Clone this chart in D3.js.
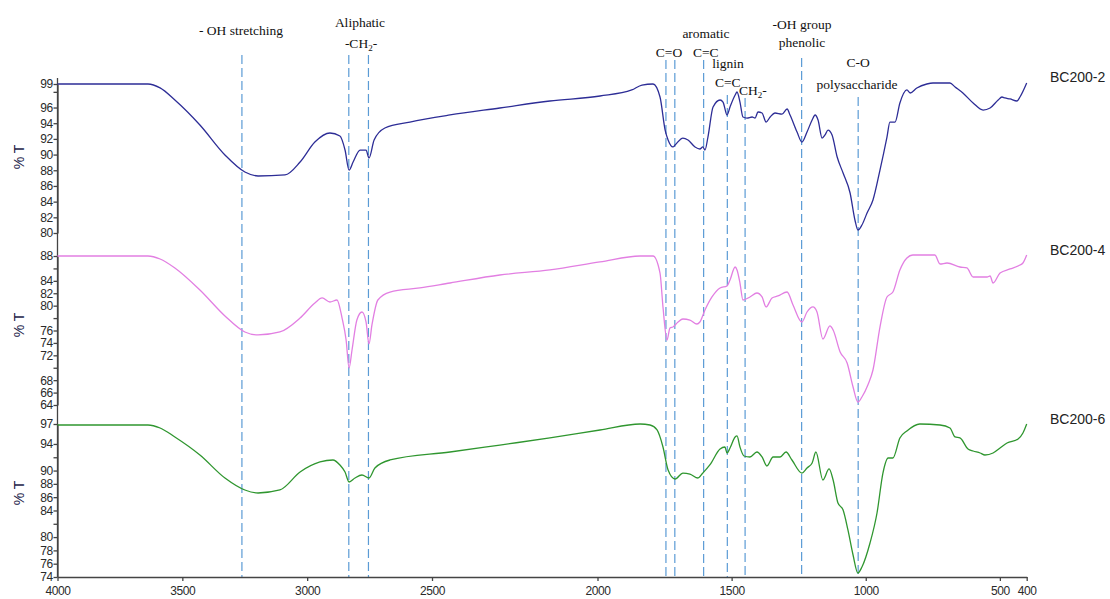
<!DOCTYPE html>
<html>
<head>
<meta charset="UTF-8">
<title>FTIR spectra BC200</title>
<script src="https://d3js.org/d3.v7.min.js"></script>
<style>
  body { margin: 0; background: #fff; }
  svg { display: block; }
  .tick text { font-family: "Liberation Sans", Arial, sans-serif; font-size: 12px; fill: #2a2a2a; }
  .axis path, .axis line { stroke: #444; stroke-width: 1.3px; }
  .spectrum { fill: none; stroke-width: 1.3px; stroke-linejoin: round; }
  .band { stroke: #5b9bd5; stroke-width: 1.2px; stroke-dasharray: 9,4; }
  .note { font-family: "Liberation Serif", "Times New Roman", serif; font-size: 13.5px; fill: #111; }
  .series-label { font-family: "Liberation Sans", Arial, sans-serif; font-size: 14px; fill: #222; }
  .y-title { font-family: "Liberation Sans", Arial, sans-serif; font-size: 14px; fill: #1c1c4a; }
</style>
</head>
<body>
<div id="chart"></div>
<script>
// sample names
const series = ['BC200-2', 'BC200-4', 'BC200-6'];

// [wavenumber cm-1, %T]
const bc2 = [[4000,99.0],[3664,99.0],[3619,98.5],[3564,96.96],[3471,93.77],[3378,89.95],[3304,87.78],[3255,87.27],
  [3155,87.4],[3099,89.05],[3044,91.6],[2988,92.75],[2951,92.37],[2932,90.58],[2917,88.03],[2902,89.05],[2876,90.58],
  [2854,90.58],[2843,89.56],[2824,91.86],[2784,93.39],[2691,94.15],[2542,95.05],[2357,95.94],[2171,96.83],[1985,97.47],
  [1867,98.24],[1829,98.87],[1788,99.0],[1762,97.34],[1743,93.13],[1732,91.86],[1714,90.97],[1706,91.22],[1677,92.11],
  [1658,91.86],[1632,90.97],[1614,90.71],[1603,90.97],[1595,90.58],[1584,92.24],[1565,96.07],[1539,96.96],[1528,96.7],
  [1513,95.05],[1502,96.07],[1483,97.6],[1476,97.98],[1465,96.7],[1454,94.79],[1439,94.66],[1420,94.79],[1409,94.66],
  [1398,95.43],[1383,95.3],[1368,94.15],[1353,94.79],[1335,95.3],[1309,95.17],[1290,95.81],[1279,95.05],[1253,92.88],
  [1235,91.6],[1216,92.88],[1197,94.41],[1186,95.05],[1175,94.41],[1160,92.11],[1149,92.5],[1138,93.13],[1123,92.5],
  [1104,89.69],[1082,87.65],[1056,85.1],[1038,81.66],[1027,80.38],[1012,81.02],[993,82.55],[971,84.21],[945,88.03],
  [919,92.24],[908,94.15],[889,94.15],[871,96.58],[845,98.24],[833,97.85],[808,98.49],[771,99.0],[748,99.13],[685,99.13],
  [666,98.62],[637,97.85],[599,96.58],[562,95.68],[536,95.94],[506,96.96],[492,97.34],[481,97.22],[462,97.09],[436,96.83],
  [425,97.34],[400,99.13]];

const bc4 = [[4000,88.0],[3664,88.0],[3619,87.52],[3564,86.07],[3471,82.52],[3378,78.34],[3304,75.76],[3255,75.28],
  [3174,75.76],[3099,78.01],[3044,80.43],[3017,81.24],[2988,80.59],[2962,80.91],[2943,78.01],[2928,74.47],[2917,69.96],
  [2906,72.86],[2888,77.69],[2869,78.98],[2854,77.37],[2843,73.83],[2832,76.89],[2810,80.91],[2765,82.2],[2654,82.85],
  [2542,83.65],[2357,84.94],[2171,85.75],[1985,87.04],[1836,88.0],[1788,88.0],[1762,85.26],[1751,79.79],[1736,74.47],
  [1725,76.4],[1714,76.56],[1695,77.37],[1677,77.85],[1651,77.69],[1625,77.05],[1614,77.37],[1595,79.3],[1569,81.4],
  [1539,82.85],[1513,83.17],[1502,84.14],[1483,86.23],[1476,85.75],[1465,83.65],[1454,80.91],[1428,81.4],[1402,82.04],
  [1383,81.4],[1368,79.79],[1346,81.24],[1324,81.56],[1290,82.2],[1268,80.11],[1235,77.37],[1216,78.98],[1194,79.79],
  [1179,78.98],[1157,74.63],[1131,76.73],[1119,76.08],[1093,72.54],[1067,70.77],[1045,66.9],[1027,64.48],[1012,65.29],
  [990,67.22],[971,69.64],[945,76.56],[919,81.4],[897,82.2],[871,85.75],[845,87.68],[823,88.16],[741,88.16],[722,86.71],
  [696,86.87],[648,86.23],[622,86.07],[599,84.62],[547,84.62],[536,84.78],[525,83.65],[499,85.26],[462,85.91],
  [425,86.55],[414,86.87],[400,88.16]];

const bc6 = [[4000,96.85],[3664,96.85],[3619,96.4],[3564,95.05],[3471,92.34],[3378,88.88],[3304,87.08],[3255,86.63],
  [3174,87.08],[3099,89.78],[3025,91.29],[2977,91.59],[2951,90.84],[2932,89.78],[2917,88.28],[2895,88.88],[2869,89.33],
  [2843,88.88],[2821,90.39],[2765,91.59],[2542,92.79],[2357,93.84],[2171,94.9],[1985,96.1],[1836,97.0],[1799,96.85],
  [1773,96.1],[1751,93.54],[1732,90.09],[1706,88.73],[1677,89.63],[1651,89.48],[1621,88.88],[1603,89.63],[1577,90.84],
  [1539,93.24],[1521,93.54],[1513,92.64],[1502,93.39],[1483,95.05],[1476,95.2],[1465,93.54],[1450,92.19],[1428,92.04],
  [1402,92.79],[1383,92.04],[1365,90.69],[1342,92.04],[1316,92.04],[1294,92.79],[1272,91.59],[1235,89.63],[1216,90.39],
  [1197,91.14],[1183,92.79],[1157,88.58],[1134,90.24],[1119,88.58],[1101,85.12],[1082,84.07],[1064,81.07],[1045,77.31],
  [1027,74.6],[1012,75.5],[982,79.11],[956,83.62],[934,89.63],[915,91.89],[897,91.89],[871,94.9],[845,95.95],[797,97.0],
  [722,96.85],[685,96.4],[666,95.05],[648,94.9],[618,93.24],[599,92.94],[573,92.64],[555,92.34],[525,92.64],[499,93.39],
  [473,94.14],[432,94.75],[414,95.65],[400,97.0]];

const xTicks = [4000, 3500, 3000, 2500, 2000, 1500, 1000, 500, 400];
const yTicks2 = [80, 82, 84, 86, 88, 90, 92, 94, 96, 98, 99];
const yLabels2 = [80, 82, 84, 86, 88, 90, 92, 94, 96, 99];
const yTicks4 = [64, 66, 68, 70, 72, 74, 76, 78, 80, 82, 84, 86, 88];
const yLabels4 = [64, 66, 68, 72, 74, 76, 80, 82, 84, 88];
const yTicks6 = [74, 76, 78, 80, 82, 84, 86, 88, 90, 92, 94, 97];
const yLabels6 = [74, 76, 78, 80, 84, 86, 88, 90, 94, 97];

// band assignments (cm-1)
const bandWn = [3315, 2918, 2845, 1740, 1707, 1600, 1512, 1446, 1236, 1026];

const width = 1110;
const height = 599;
const axisY = 577;

const svg = d3.select('#chart')
    .append('svg')
    .attr('width', width)
    .attr('height', height);

svg.append('rect').attr('width', width).attr('height', height).attr('fill', '#fff');

// wavenumber scale for the data
const x = d3.scaleLinear().domain([4000, 400]).range([57.5, 1026.7]);
// the printed axis spaces its upper ticks unevenly, so ticks get their own scale
const xTickScale = d3.scaleLinear()
    .domain([4000, 2500, 2000, 400])
    .range([57.5, 432, 597.5, 1026.7]);

// dashed band markers (drawn first, under the spectra)
const bandTop = [55, 55, 55, 60, 60, 60, 95, 98, 58, 97];
svg.selectAll('.band')
    .data(bandWn)
    .enter()
    .append('line')
    .attr('class', 'band')
    .attr('x1', d => x(d))
    .attr('x2', d => x(d))
    .attr('y1', (d, i) => bandTop[i])
    .attr('y2', axisY);

const panels = [
    { name: series[0], data: bc2, color: '#2d2d96', domain: [80, 99], range: [233, 84], ticks: yTicks2, labels: yLabels2, titleY: 157, nameY: 77 },
    { name: series[1], data: bc4, color: '#e27fe2', domain: [64, 88], range: [405, 256], ticks: yTicks4, labels: yLabels4, titleY: 325, nameY: 250 },
    { name: series[2], data: bc6, color: '#2f962f', domain: [74, 97], range: [577, 424], ticks: yTicks6, labels: yLabels6, titleY: 493, nameY: 419 }
];

// continuous left spine
svg.append('line')
    .attr('x1', 57.5).attr('x2', 57.5)
    .attr('y1', 78).attr('y2', axisY)
    .attr('stroke', '#444').attr('stroke-width', 1.3);

panels.forEach(p => {
    const y = d3.scaleLinear().domain(p.domain).range(p.range);

    const yAxis = d3.axisLeft(y)
        .tickValues(p.ticks)
        .tickSize(4)
        .tickSizeOuter(0)
        .tickFormat(d => p.labels.includes(d) ? d : '');

    svg.append('g')
        .attr('class', 'axis')
        .attr('transform', 'translate(57.5,0)')
        .call(yAxis)
        .call(g => g.selectAll('.tick text').attr('x', -5).attr('letter-spacing', '-0.6px'));

    // points run high -> low wavenumber, i.e. left -> right on screen
    const line = d3.line()
        .curve(d3.curveMonotoneX)
        .x(d => x(d[0]))
        .y(d => y(d[1]));

    svg.append('path')
        .datum(p.data)
        .attr('class', 'spectrum')
        .attr('stroke', p.color)
        .attr('d', line);

    svg.append('text')
        .attr('class', 'y-title')
        .attr('transform', `translate(24, ${p.titleY}) rotate(-90)`)
        .attr('text-anchor', 'middle')
        .text('% T');

    svg.append('text')
        .attr('class', 'series-label')
        .attr('x', 1050)
        .attr('y', p.nameY + 5)
        .text(p.name);
});

// x axis
svg.append('g')
    .attr('class', 'axis')
    .attr('transform', `translate(0, ${axisY})`)
    .call(d3.axisBottom(xTickScale).tickValues(xTicks).tickFormat(d3.format('d')).tickSize(4).tickSizeOuter(0))
    .call(g => g.selectAll('.tick text').attr('dy', '0.9em').attr('letter-spacing', '-0.4px'));

// band annotations
function note(tx, ty, txt, anchor) {
    return svg.append('text')
        .attr('class', 'note')
        .attr('x', tx)
        .attr('y', ty)
        .attr('text-anchor', anchor || 'middle')
        .text(txt);
}

function ch2(tx, ty, pre, post, anchor) {
    const t = svg.append('text')
        .attr('class', 'note')
        .attr('x', tx)
        .attr('y', ty)
        .attr('text-anchor', anchor || 'middle');
    t.append('tspan').text(pre + 'CH');
    t.append('tspan').attr('font-size', '9px').attr('dy', 3).text('2');
    t.append('tspan').attr('dy', -3).text(post);
}

note(241, 35, '- OH stretching');
note(360, 27, 'Aliphatic');
ch2(361, 48, '-', '-');
note(669, 57, 'C=O');
note(706, 38, 'aromatic');
note(693, 57, 'C=C', 'start');
note(728, 68, 'lignin');
note(715, 87, 'C=C', 'start');
ch2(739, 95, '', '-', 'start');
note(802, 29, '-OH  group');
note(802, 47, 'phenolic');
note(858, 67, 'C-O');
note(857, 89, 'polysaccharide');
</script>
</body>
</html>
